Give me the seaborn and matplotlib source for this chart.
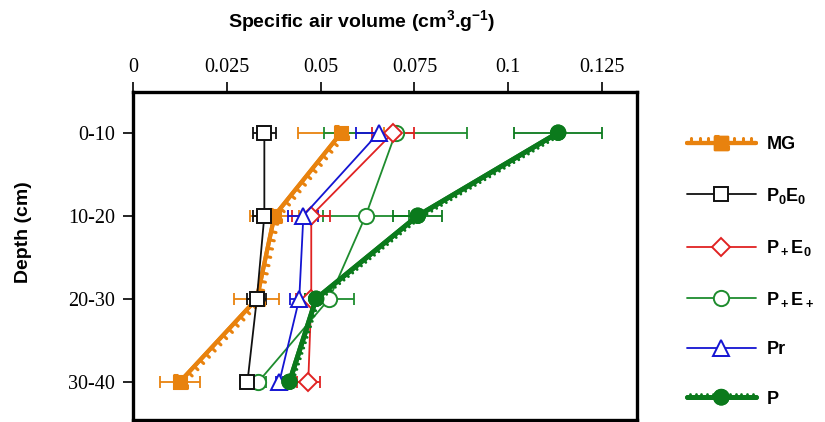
import matplotlib
matplotlib.use("Agg")
import matplotlib.pyplot as plt
import matplotlib.patheffects as pe
from matplotlib.lines import Line2D
import seaborn as sns
import numpy as np
import pandas as pd

depths = ["0-10", "10-20", "20-30", "30-40"]
xticks = [0, 0.025, 0.05, 0.075, 0.1, 0.125]
xtick_labels = ["0", "0.025", "0.05", "0.075", "0.1", "0.125"]

mg = [0.0555, 0.0377, 0.033, 0.0125]
mg_err = [0.0115, 0.0065, 0.006, 0.0053]
p0e0 = [0.035, 0.035, 0.033, 0.0305]
p0e0_err = [0.003, 0.003, 0.0025, 0.0015]
ppe0 = [0.0693, 0.0475, 0.0475, 0.0467]
ppe0_err = [0.0055, 0.005, 0.004, 0.003]
ppep = [0.070, 0.062, 0.0523, 0.0334]
ppep_err = [0.019, 0.0115, 0.0065, 0.002]
pr = [0.0655, 0.0454, 0.0443, 0.039]
pr_err = [0.006, 0.004, 0.0025, 0.001]
p = [0.1133, 0.0759, 0.0488, 0.0417]
p_err = [0.0118, 0.0065, 0.003, 0.001]

labels = ["MG", r"$\mathbf{P_0E_0}$", r"$\mathbf{P_+E_0}$", r"$\mathbf{P_+E_+}$", "Pr", "P"]

sns.set_theme(style="white")
plt.rcParams["font.family"] = ["Liberation Sans", "DejaVu Sans"]
plt.rcParams["mathtext.fontset"] = "custom"
plt.rcParams["mathtext.bf"] = "Liberation Sans:bold"
plt.rcParams["mathtext.rm"] = "Liberation Sans:bold"
plt.rcParams["text.color"] = "black"
plt.rcParams["xtick.color"] = "black"
plt.rcParams["ytick.color"] = "black"
plt.rcParams["axes.labelcolor"] = "black"

fig = plt.figure(figsize=(8.25, 4.22), dpi=100)
ax = fig.add_axes([133/825, 2/422, (637-133)/825, (420-92)/422])

pos = np.arange(len(depths))

orange = "#E8820E"
black = "#111111"
red = "#E02222"
green = "#1E8C2E"
blue = "#1414D2"
dgreen = "#0B7A1C"

series = [
    (mg, mg_err, orange, dict(marker="s", markersize=10, markerfacecolor=orange, markeredgecolor=orange,
                              linewidth=3.0, path_effects=[pe.withTickedStroke(angle=90, length=0.6, spacing=6, linewidth=2.2), pe.Normal()])),
    (ppep, ppep_err, green, dict(marker="o", markersize=11, markerfacecolor="white", markeredgecolor=green, markeredgewidth=1.4, linewidth=1.3)),
    (ppe0, ppe0_err, red, dict(marker="D", markersize=9, markerfacecolor="white", markeredgecolor=red, markeredgewidth=1.4, linewidth=1.3)),
    (pr, pr_err, blue, dict(marker="^", markersize=11, markerfacecolor="white", markeredgecolor=blue, markeredgewidth=1.4, linewidth=1.3)),
    (p0e0, p0e0_err, black, dict(marker="s", markersize=10, markerfacecolor="white", markeredgecolor=black, markeredgewidth=1.4, linewidth=1.3)),
    (p, p_err, dgreen, dict(marker="o", markersize=11, markerfacecolor=dgreen, markeredgecolor=dgreen,
                            linewidth=3.5, path_effects=[pe.withTickedStroke(angle=90, length=0.6, spacing=4, linewidth=2.0), pe.Normal()])),
]

handles = {}
names_order = ["MG", "P+E+", "P+E0", "Pr", "P0E0", "P"]
for (vals, errs, col, kw), name in zip(series, names_order):
    ax.errorbar(vals, pos, xerr=errs, fmt="none", ecolor=col, elinewidth=1.3, capsize=4, capthick=1.3, zorder=2)
    df = pd.DataFrame({"x": vals, "y": pos})
    sns.lineplot(data=df, x="x", y="y", sort=False, orient="y", color=col, ax=ax, errorbar=None, zorder=3, **kw)
    handles[name] = Line2D([0], [0], color=col, **kw)

ax.set_xlim(0, 0.1343)
ax.set_ylim(3.46, -0.49)
ax.xaxis.tick_top()
ax.set_xticks(xticks)
ax.set_xticklabels(xtick_labels, family="Liberation Serif", fontsize=14.5)
ax.set_yticks(pos)
ax.set_yticklabels(depths, family="Liberation Serif", fontsize=14.5)
ax.tick_params(axis="x", which="both", top=True, bottom=False, direction="out", length=7, width=1.2, color="black", pad=4)
ax.tick_params(axis="y", which="both", left=True, direction="out", length=7, width=1.2, color="black", pad=6)
ax.set_xlabel("")
ax.set_ylabel("")
for s in ax.spines.values():
    s.set_visible(True)
    s.set_color("black")
    s.set_linewidth(2.4)

fig.text(362/825, 1 - 22/422, r"Specific air volume (cm$^\mathbf{3}$.g$^\mathbf{-1}$)", ha="center", va="center",
         fontsize=14, fontweight="bold")
fig.text(24/825, 1 - 232/422, "Depth (cm)", ha="center", va="center", rotation=90, fontsize=14, fontweight="bold")

leg_order = ["MG", "P0E0", "P+E0", "P+E+", "Pr", "P"]
leg = fig.legend([handles[n] for n in leg_order], labels, loc="upper left",
                 bbox_to_anchor=(687/825, 1 - 136/422), frameon=False, handlelength=3.8,
                 labelspacing=1.8, handletextpad=0.6, borderaxespad=0, borderpad=0,
                 prop={"weight": "bold", "size": 13})

fig.savefig("out.png", dpi=100)
